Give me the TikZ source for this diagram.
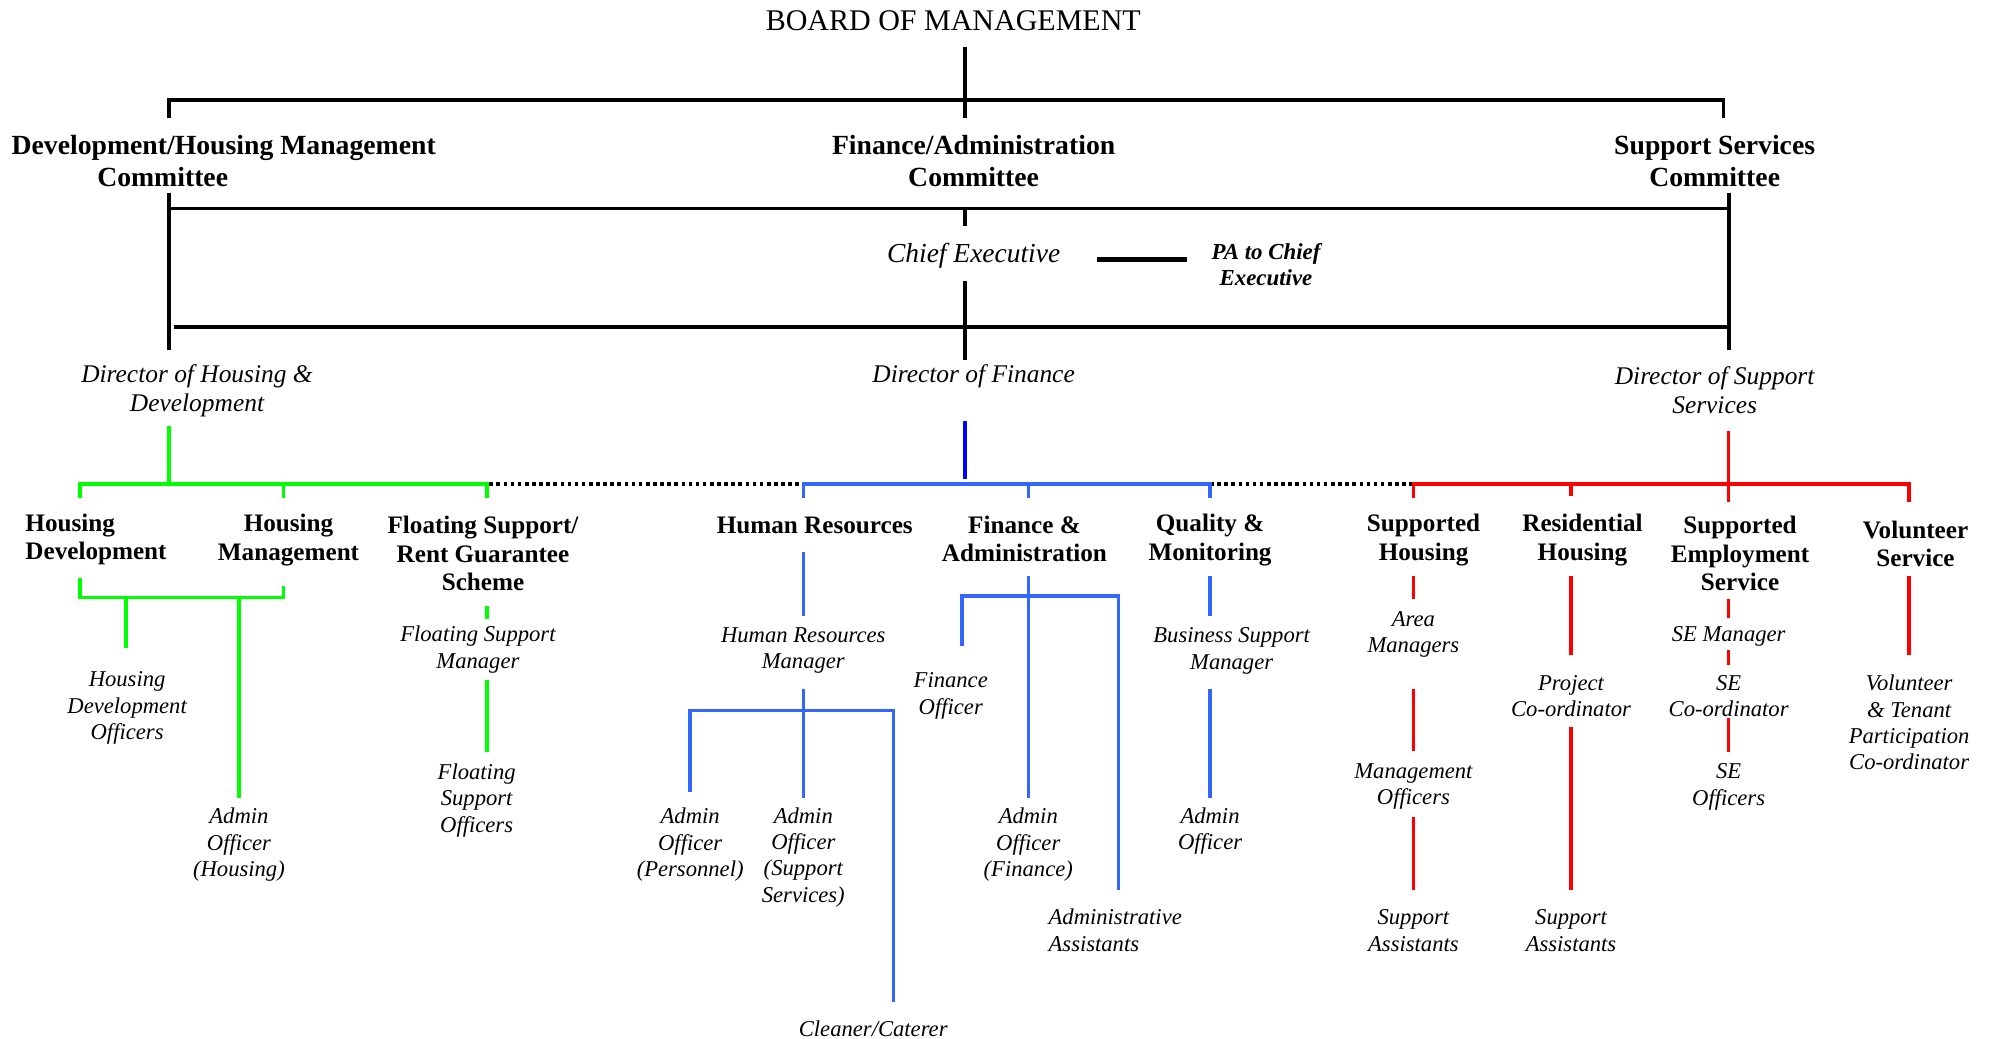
\documentclass[tikz,border=0pt]{standalone}
\usepackage{fontspec}
\setmainfont{Liberation Serif}
\definecolor{grn}{HTML}{00FF00}
\definecolor{blu}{HTML}{3366FF}
\definecolor{dblu}{HTML}{0000FF}
\definecolor{rd}{HTML}{FF0000}
\begin{document}
\begin{tikzpicture}[x=0.5pt,y=-0.5pt,
  every node/.style={inner sep=0pt,outer sep=0pt,align=center},
  boardtxt/.style={font=\fontsize{11.8}{13}\selectfont},
  cmt/.style={font=\fontsize{10.9}{12.5}\selectfont\bfseries},
  exec/.style={font=\fontsize{10.8}{12}\selectfont\itshape},
  pastyle/.style={font=\fontsize{9}{10}\selectfont\bfseries\itshape},
  dirc/.style={font=\fontsize{10}{11.5}\selectfont\itshape},
  dept/.style={font=\fontsize{9.9}{11.25}\selectfont\bfseries},
  role/.style={font=\fontsize{8.9}{10.4}\selectfont\itshape},
  blk/.style={line width=1.5pt,black},
  gl/.style={line width=1.4pt,grn},
  bl/.style={line width=1.4pt,blu},
  dbl/.style={line width=1.4pt,dblu},
  rl/.style={line width=1.4pt,rd},
  dots/.style={line width=1.5pt,black,dash pattern=on 1.4pt off 1.4pt}]
\useasboundingbox (0,0) rectangle (1568,817);
% ---------- texts ----------
\node[boardtxt] (board) at (750,16) {BOARD OF MANAGEMENT};
\node[cmt] (dhc) at (176,126.5) {Development/Housing Management\\Committee\hspace*{48pt}};
\node[cmt] (fac) at (766,126.5) {Finance/Administration\\Committee};
\node[cmt] (ssc) at (1349,126.5) {Support Services\\Committee};
\node[exec] (ce) at (766,201) {Chief Executive};
\node[pastyle] (pa) at (996,208) {PA to Chief\\Executive};
\node[dirc] (dhd) at (155,307.5) {Director of Housing \&\\Development};
\node[dirc] (dof) at (766,296) {Director of Finance};
\node[dirc] (dss) at (1349,307) {Director of Support\\Services};
\node[dept,anchor=west,align=left] (hd) at (20,424.5) {Housing\\Development};
\node[dept] (hm) at (227,425) {Housing\\Management};
\node[dept] (fs) at (380,435.5) {Floating Support/\\Rent Guarantee\\Scheme};
\node[dept] (hr) at (641,413) {Human Resources};
\node[dept] (fa) at (806,424) {Finance \&\\Administration};
\node[dept] (qm) at (952,425) {Quality \&\\Monitoring};
\node[dept] (sh) at (1120,425) {Supported\\Housing};
\node[dept] (rh) at (1245,425) {Residential\\Housing};
\node[dept] (se) at (1369,435.5) {Supported\\Employment\\Service};
\node[dept] (vs) at (1507,428) {Volunteer\\Service};
\node[role] (hdo) at (100,557) {Housing\\Development\\Officers};
\node[role] (aoh) at (188,664.5) {Admin\\Officer\\(Housing)};
\node[role] (fsm) at (376,511) {Floating Support\\Manager};
\node[role] (fso) at (375,629.5) {Floating\\Support\\Officers};
\node[role] (hrm) at (632,512) {Human Resources\\Manager};
\node[role] (aop) at (543,664.5) {Admin\\Officer\\(Personnel)};
\node[role] (aoss) at (632,674.5) {Admin\\Officer\\(Support\\Services)};
\node[role] (cc) at (687,809) {Cleaner/Caterer};
\node[role] (fo) at (748,547.5) {Finance\\Officer};
\node[role] (aof) at (809,664.5) {Admin\\Officer\\(Finance)};
\node[role,anchor=west,align=left] (aa) at (825,732) {Administrative\\Assistants};
\node[role] (bsm) at (969,512) {Business Support\\Manager};
\node[role] (aoq) at (952,654) {Admin\\Officer};
\node[role] (am) at (1112,499) {Area\\Managers};
\node[role] (mo) at (1112,619) {Management\\Officers};
\node[role] (sa1) at (1112,732) {Support\\Assistants};
\node[role] (pc) at (1236,547.5) {Project\\Co-ordinator};
\node[role] (sa2) at (1236,732) {Support\\Assistants};
\node[role] (sem) at (1360,501) {SE Manager};
\node[role] (sec) at (1360,547.5) {SE\\Co-ordinator};
\node[role] (seo) at (1360,619) {SE\\Officers};
\node[role] (vtp) at (1502,568.5) {Volunteer\\\& Tenant\\Participation\\Co-ordinator};
% ---------- black structure ----------
\draw[blk] (759,37) -- (759,93);
\draw[blk] (133,93) -- (133,79) -- (1356,79) -- (1356,93);
\draw[blk] (133,164) -- (1360,164);
\draw[blk] (133,152) -- (133,275);
\draw[blk] (1360,152) -- (1360,275);
\draw[blk] (759,164) -- (759,178);
\draw[line width=2pt] (863,204) -- (934,204);
\draw[blk] (759,221) -- (759,283);
\draw[blk] (137,257) -- (1360,257);
% ---------- green ----------
\draw[gl] (133,335) -- (133,381);
\draw[gl] (63,392) -- (63,381) -- (383,381) -- (383,392);
\draw[gl] (223,381) -- (223,392);
\draw[gl] (63,455) -- (63,470) -- (223,470) -- (223,461);
\draw[gl] (99,470) -- (99,510);
\draw[gl] (188,470) -- (188,628);
\draw[gl] (383,477) -- (383,487);
\draw[gl] (383,535) -- (383,592);
% ---------- dotted ----------
\draw[dots] (385,381) -- (632,381);
\draw[dots] (952,381) -- (1112,381);
% ---------- blue ----------
\draw[dbl] (759,331) -- (759,377);
\draw[bl] (632,392) -- (632,381) -- (952,381) -- (952,392);
\draw[bl] (809,381) -- (809,392);
\draw[bl] (632,434) -- (632,485);
\draw[bl] (632,542) -- (632,628);
\draw[bl] (543,623) -- (543,559) -- (703,559) -- (703,788);
\draw[bl] (809,453) -- (809,628);
\draw[bl] (757,508) -- (757,469) -- (880,469) -- (880,700);
\draw[bl] (952,453) -- (952,485);
\draw[bl] (952,542) -- (952,628);
% ---------- red ----------
\draw[rl] (1360,339) -- (1360,395);
\draw[rl] (1112,392) -- (1112,381) -- (1502,381) -- (1502,395);
\draw[rl] (1236,381) -- (1236,390);
\draw[rl] (1112,453) -- (1112,471);
\draw[rl] (1112,542) -- (1112,591);
\draw[rl] (1112,643) -- (1112,700);
\draw[rl] (1236,453) -- (1236,515);
\draw[rl] (1236,572) -- (1236,700);
\draw[rl] (1360,471) -- (1360,486);
\draw[rl] (1360,511) -- (1360,523);
\draw[rl] (1360,565) -- (1360,592);
\draw[rl] (1502,453) -- (1502,515);
\end{tikzpicture}
\end{document}
